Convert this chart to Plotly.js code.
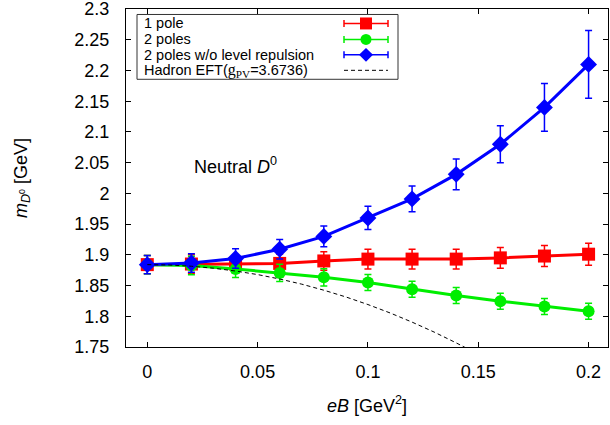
<!DOCTYPE html>
<html>
<head>
<meta charset="utf-8">
<script src="https://cdn.plot.ly/plotly-3.0.1.min.js"></script>
<style>html,body{margin:0;padding:0;background:#fff;}#chart{width:610px;height:425px;}</style>
</head>
<body>
<div id="chart"></div>
<script>
// eB values [GeV^2]
const eB = [0, 0.02, 0.04, 0.06, 0.08, 0.10, 0.12, 0.14, 0.16, 0.18, 0.20];
// 1 pole
const onePole    = [1.884, 1.885, 1.885, 1.886, 1.890, 1.893, 1.893, 1.893, 1.895, 1.898, 1.901];
const onePoleErr = [0.015, 0.015, 0.015, 0.015, 0.015, 0.016, 0.016, 0.016, 0.017, 0.017, 0.018];
// 2 poles
const twoPoles    = [1.884, 1.8825, 1.877, 1.8705, 1.8634, 1.855, 1.844, 1.8337, 1.8244, 1.8158, 1.8081];
const twoPolesErr = [0.015, 0.015, 0.014, 0.014, 0.014, 0.013, 0.013, 0.013, 0.013, 0.013, 0.013];
// 2 poles w/o level repulsion
const noRep    = [1.884, 1.8867, 1.894, 1.909, 1.930, 1.960, 1.991, 2.031, 2.080, 2.140, 2.210];
const noRepErr = [0.015, 0.015, 0.016, 0.016, 0.017, 0.019, 0.021, 0.025, 0.030, 0.039, 0.055];
// Hadron EFT curve
const eftX = [0, 0.01, 0.02, 0.03, 0.04, 0.05, 0.06, 0.07, 0.08, 0.09, 0.10, 0.11, 0.12, 0.13, 0.14, 0.145];
const eftY = [1.884, 1.8834, 1.8814, 1.8782, 1.8736, 1.8678, 1.8606, 1.8522, 1.8424, 1.8314, 1.819, 1.8054, 1.7904, 1.7742, 1.7566, 1.7473];

const xTicks = [0, 0.05, 0.1, 0.15, 0.2];
const xTickText = ['0', '0.05', '0.1', '0.15', '0.2'];
const yTicks = [1.75, 1.8, 1.85, 1.9, 1.95, 2.0, 2.05, 2.1, 2.15, 2.2, 2.25, 2.3];
const yTickText = ['1.75', '1.8', '1.85', '1.9', '1.95', '2', '2.05', '2.1', '2.15', '2.2', '2.25', '2.3'];

const legendLabels = ['1 pole', '2 poles', '2 poles w/o level repulsion',
  'Hadron EFT(<span style="font-family:Liberation Serif;font-size:16px">g<sub>PV</sub></span>=3.6736)'];

const RED = '#ff0000', GREEN = '#00ee00', BLUE = '#0000ff';

function series(y, err, color, symbol, size) {
  return {
    x: eB, y: y, type: 'scatter', mode: 'lines+markers',
    line: {color: color, width: 3},
    marker: {color: color, symbol: symbol, size: size, line: {width: 0}},
    error_y: {type: 'data', array: err, visible: true, color: color, thickness: 1.5, width: 3.5},
    showlegend: false, cliponaxis: true
  };
}

const traces = [
  series(onePole, onePoleErr, RED, 'square', 13),
  series(twoPoles, twoPolesErr, GREEN, 'circle', 12),
  series(noRep, noRepErr, BLUE, 'diamond', 13),
  {x: eftX, y: eftY, type: 'scatter', mode: 'lines',
   line: {color: '#000', width: 1, dash: '4px,3px'}, showlegend: false}
];

// pixel -> paper helpers for the hand-drawn legend box
const L = 126, R = 608, T = 8.5, B = 347.5;
const px = v => (v - L) / (R - L);
const py = v => (B - v) / (B - T);

const shapes = [];
const annotations = [];
// legend frame
shapes.push({type: 'rect', xref: 'paper', yref: 'paper', x0: px(137), x1: px(398), y0: py(14), y1: py(79),
  line: {color: '#333', width: 1}, fillcolor: '#fff', layer: 'above'});
const rows = [23, 39, 54.5, 70];
const colors = [RED, GREEN, BLUE];
rows.forEach((ry, i) => {
  annotations.push({xref: 'paper', yref: 'paper', x: px(142), y: py(ry), xanchor: 'left', yanchor: 'middle',
    text: legendLabels[i], showarrow: false, font: {family: 'Liberation Sans, Arial', size: 14.5, color: '#000'}});
  if (i < 3) {
    const c = colors[i];
    shapes.push({type: 'line', xref: 'paper', yref: 'paper', x0: px(344), x1: px(388), y0: py(ry), y1: py(ry), line: {color: c, width: 1.5}, layer: 'above'});
    shapes.push({type: 'line', xref: 'paper', yref: 'paper', x0: px(344), x1: px(344), y0: py(ry - 3.5), y1: py(ry + 3.5), line: {color: c, width: 1.5}, layer: 'above'});
    shapes.push({type: 'line', xref: 'paper', yref: 'paper', x0: px(388), x1: px(388), y0: py(ry - 3.5), y1: py(ry + 3.5), line: {color: c, width: 1.5}, layer: 'above'});
  } else {
    shapes.push({type: 'line', xref: 'paper', yref: 'paper', x0: px(344), x1: px(388), y0: py(ry), y1: py(ry), line: {color: '#000', width: 1, dash: '4px,3px'}, layer: 'above'});
  }
});
// legend markers
shapes.push({type: 'rect', xref: 'paper', yref: 'paper', x0: px(360), x1: px(372), y0: py(17), y1: py(29), fillcolor: RED, line: {width: 0}, layer: 'above'});
shapes.push({type: 'circle', xref: 'paper', yref: 'paper', x0: px(360.5), x1: px(371.5), y0: py(33.5), y1: py(44.5), fillcolor: GREEN, line: {width: 0}, layer: 'above'});
shapes.push({type: 'path', xref: 'paper', yref: 'paper', layer: 'above', fillcolor: BLUE, line: {width: 0},
  path: `M ${px(366)} ${py(47.5)} L ${px(373)} ${py(54.5)} L ${px(366)} ${py(61.5)} L ${px(359)} ${py(54.5)} Z`});

annotations.push({xref: 'x', yref: 'y', x: 0.0203, y: 2.046, xanchor: 'left', yanchor: 'middle', showarrow: false,
  text: 'Neutral <i>D</i><sup>0</sup>', font: {family: 'Liberation Sans, Arial', size: 18, color: '#000'}});

const layout = {
  width: 610, height: 425,
  margin: {l: L, r: 610 - R, t: T, b: 425 - B},
  paper_bgcolor: '#fff', plot_bgcolor: '#fff',
  font: {family: 'Liberation Sans, Arial', size: 18, color: '#000'},
  xaxis: {
    range: [-0.00965, 0.2088], tickvals: xTicks, ticktext: xTickText,
    ticks: 'inside', ticklen: 5, tickwidth: 1, tickcolor: '#000',
    showline: true, linecolor: '#000', linewidth: 1, mirror: 'allticks',
    showgrid: false, zeroline: false, ticklabelstandoff: 8, ticklabeloverflow: 'allow',
    title: {text: '<i>eB</i> [GeV<sup>2</sup>]', font: {size: 18}, standoff: 18},
    automargin: false
  },
  yaxis: {
    range: [1.7499, 2.3002], tickvals: yTicks, ticktext: yTickText,
    ticks: 'inside', ticklen: 5, tickwidth: 1, tickcolor: '#000',
    showline: true, linecolor: '#000', linewidth: 1, mirror: 'allticks',
    showgrid: false, zeroline: false, ticklabelstandoff: 12, ticklabeloverflow: 'allow',
    title: {text: '<i>m</i><sub><i>D</i><sup>0</sup></sub> [GeV]', font: {size: 18}, standoff: 42},
    automargin: false
  },
  shapes: shapes,
  annotations: annotations
};

Plotly.newPlot('chart', traces, layout, {staticPlot: true, displayModeBar: false});
</script>
</body>
</html>
